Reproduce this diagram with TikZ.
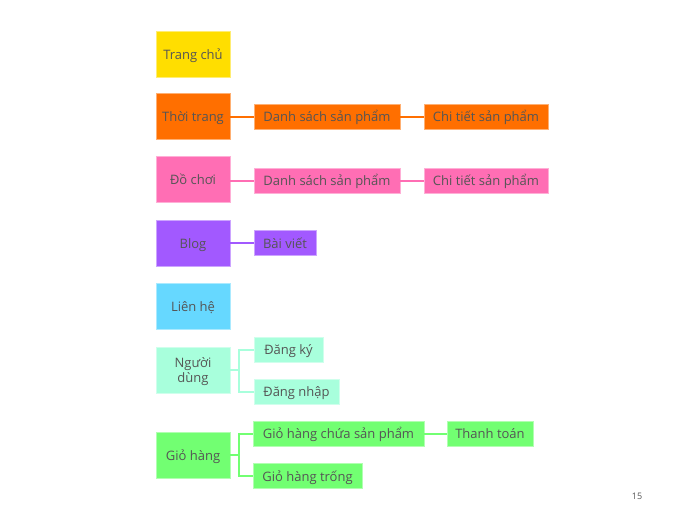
\documentclass[tikz,border=0pt]{standalone}
\usepackage{fontspec}
\setmainfont{Open Sans}
\usetikzlibrary{positioning}
\definecolor{txt}{HTML}{555555}
\definecolor{cyel}{HTML}{FFDE00}
\definecolor{cora}{HTML}{FF6F00}
\definecolor{cpin}{HTML}{FF6EB4}
\definecolor{cpur}{HTML}{A259FF}
\definecolor{cblu}{HTML}{66D8FF}
\definecolor{cmin}{HTML}{A8FFDC}
\definecolor{cgre}{HTML}{72FF72}
\tikzset{
  box/.style={fill=#1, draw=#1!55!white, line width=0.8pt, inner sep=0pt,
    font=\fontsize{13}{15}\selectfont, text=txt, align=center},
  oneline/.style={text height=1.0em, text depth=-0.2em},
  mainbox/.style={box=#1, minimum width=74pt, minimum height=46pt},
  subbox/.style={box=#1, oneline, minimum height=25pt},
  link/.style={draw=#1, line width=2pt}
}
\begin{document}
\begin{tikzpicture}[x=1pt,y=-1pt]
\useasboundingbox[fill=white] (0,0) rectangle (673,520);
% main boxes
\node[mainbox=cyel, oneline] (tc) at (193,54) {Trang chủ};
\node[mainbox=cora, oneline] (tt) at (193,116.5) {Thời trang};
\node[mainbox=cpin, oneline] (dc) at (193,179.5) {Đồ chơi};
\node[mainbox=cpur, oneline] (bl) at (193,243) {Blog};
\node[mainbox=cblu, oneline] (lh) at (193,306.5) {Liên hệ};
\node[mainbox=cmin, text depth=-9pt] (nd) at (193,370) {Người\\dùng};
\node[mainbox=cgre, oneline] (gh) at (193,455) {Giỏ hàng};
% sub boxes
\node[subbox=cora, minimum width=146pt] (ds1) at (327,116.5) {Danh sách sản phẩm};
\node[subbox=cora, minimum width=124pt] (ct1) at (486,116.5) {Chi tiết sản phẩm};
\node[subbox=cpin, minimum width=146pt] (ds2) at (327,180.5) {Danh sách sản phẩm};
\node[subbox=cpin, minimum width=124pt] (ct2) at (486,180.5) {Chi tiết sản phẩm};
\node[subbox=cpur, minimum width=62pt] (bv) at (285,243) {Bài viết};
\node[subbox=cmin, minimum width=69pt] (dk) at (288.5,349.5) {Đăng ký};
\node[subbox=cmin, minimum width=85pt] (dn) at (296.5,391.5) {Đăng nhập};
\node[subbox=cgre, minimum width=171pt] (ghc) at (338.5,433.5) {Giỏ hàng chứa sản phẩm};
\node[subbox=cgre, minimum width=86pt] (tto) at (490,433.5) {Thanh toán};
\node[subbox=cgre, minimum width=109pt] (ght) at (307.5,476) {Giỏ hàng trống};
% connectors
\draw[link=cora] (tt.east) -- (ds1.west);
\draw[link=cora] (ds1.east) -- (ct1.west);
\draw[link=cpin] (dc.east|-ds2.west) -- (ds2.west);
\draw[link=cpin] (ds2.east) -- (ct2.west);
\draw[link=cpur] (bl.east) -- (bv.west);
\coordinate (ndb) at ([xshift=9pt]nd.east);
\draw[link=cmin] (nd.east) -- (ndb);
\draw[link=cmin] (ndb) |- (dk.west);
\draw[link=cmin] (ndb) |- (dn.west);
\coordinate (ghb) at ([xshift=9pt]gh.east);
\draw[link=cgre] (gh.east) -- (ghb);
\draw[link=cgre] (ghb) |- (ghc.west);
\draw[link=cgre] (ghb) |- (ght.west);
\draw[link=cgre] (ghc.east) -- (tto.west);
% page number
\node[font=\fontsize{9}{11}\selectfont, text=txt] (pg) at (637,496) {15};
\end{tikzpicture}
\end{document}
